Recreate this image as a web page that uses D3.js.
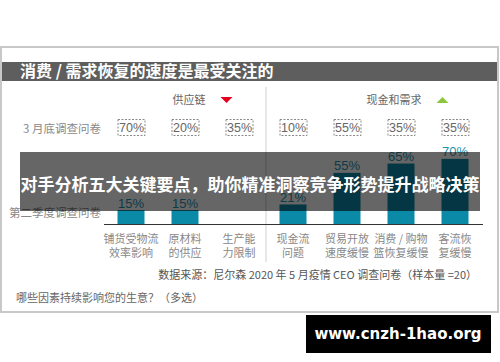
<!DOCTYPE html>
<html>
<head>
<meta charset="utf-8">
<script src="https://cdn.jsdelivr.net/npm/d3@7"></script>
<style>
  body { margin: 0; background: #fff; }
  svg { display: block; font-family: "Noto Sans CJK SC", "Noto Sans", sans-serif; }
</style>
</head>
<body>
<svg class="chart"></svg>
<script>
var width = 500,
    height = 362;

// data
var categories = [
  ["铺货受物流", "效率影响"],
  ["原材料", "的供应"],
  ["生产能", "力限制"],
  ["现金流", "问题"],
  ["贸易开放", "速度缓慢"],
  ["消费 / 购物", "篮恢复缓慢"],
  ["客流恢", "复缓慢"]
];
var marchValues = [70, 20, 35, 10, 55, 35, 35];
var q2Values = [15, 15, null, 21, 55, 65, 70];
var groups = [
  { name: "供应链", dir: "down", from: 0, to: 2 },
  { name: "现金和需求", dir: "up", from: 3, to: 6 }
];
var rowLabels = ["3 月底调查问卷", "第二季度调查问卷"];

var teal = "#0b8aa7";

var svg = d3.select(".chart")
    .attr("width", width)
    .attr("height", height);

// card
svg.append("rect")
    .attr("x", 1).attr("y", 47)
    .attr("width", 497).attr("height", 265)
    .attr("fill", "#fff")
    .attr("stroke", "#c8c8c8")
    .attr("stroke-width", 2);

svg.append("rect")
    .attr("x", 2).attr("y", 62)
    .attr("width", 495).attr("height", 19)
    .attr("fill", "#5e5e5e");

svg.append("text")
    .attr("x", 20).attr("y", 77)
    .attr("fill", "#fff")
    .attr("font-size", 16)
    .attr("font-weight", "bold")
    .text("消费 / 需求恢复的速度是最受关注的");

var x = d3.scaleBand()
    .domain(d3.range(categories.length))
    .range([104, 482])
    .paddingInner(0.5)
    .paddingOuter(0.25);

var y = d3.scaleLinear()
    .domain([0, 100])
    .range([224, 131]);

// divider between the two groups
var divX = (x(2) + x.bandwidth() + x(3)) / 2;
svg.append("line")
    .attr("x1", divX).attr("x2", divX)
    .attr("y1", 87).attr("y2", 262)
    .attr("stroke", "#cfcfcf");

// group headers: triangle near the right end of the group, name before it
groups.forEach(function(g) {
    var right = x(g.to) + x.bandwidth();
    var tx = right - 26, ty = 100;
    svg.append("text")
        .attr("x", tx - 21).attr("y", 104)
        .attr("text-anchor", "end")
        .attr("font-size", 11)
        .attr("fill", "#666")
        .text(g.name);
    var pts = g.dir == "down"
        ? [[tx - 6, ty - 3], [tx + 6, ty - 3], [tx, ty + 3]]
        : [[tx - 6, ty + 3], [tx + 6, ty + 3], [tx, ty - 3]];
    svg.append("path")
        .attr("d", d3.line()(pts) + "Z")
        .attr("fill", g.dir == "down" ? "#e5001e" : "#8cc63e");
});

// row labels
svg.selectAll(".row-label")
    .data(rowLabels)
  .enter().append("text")
    .attr("class", "row-label")
    .attr("x", 101)
    .attr("y", function(d, i) { return i == 0 ? 133 : 217; })
    .attr("text-anchor", "end")
    .attr("font-size", 11.5)
    .attr("fill", "#888")
    .text(function(d) { return d; });

// march survey boxes
var box = svg.selectAll(".box")
    .data(marchValues)
  .enter().append("g")
    .attr("class", "box")
    .attr("transform", function(d, i) { return "translate(" + x(i) + ",119)"; });

box.append("rect")
    .attr("x", 0.5).attr("y", 0.5)
    .attr("width", x.bandwidth()).attr("height", 16)
    .attr("fill", "none")
    .attr("stroke", "#888")
    .attr("stroke-dasharray", "2,1.5");

box.append("text")
    .attr("x", x.bandwidth() / 2 + 0.5).attr("y", 13)
    .attr("text-anchor", "middle")
    .attr("font-size", 12.5)
    .attr("font-family", "Liberation Sans, Arial, sans-serif")
    .attr("fill", "#666")
    .text(function(d) { return d + "%"; });

// q2 bars
var bars = q2Values.map(function(v, i) { return { v: v, i: i }; })
    .filter(function(d) { return d.v != null; });

svg.selectAll(".bar")
    .data(bars)
  .enter().append("rect")
    .attr("class", "bar")
    .attr("x", function(d) { return x(d.i); })
    .attr("y", function(d) { return y(d.v); })
    .attr("width", x.bandwidth())
    .attr("height", function(d) { return y(0) - y(d.v); })
    .attr("fill", teal);

svg.selectAll(".bar-label")
    .data(bars)
  .enter().append("text")
    .attr("class", "bar-label")
    .attr("x", function(d) { return x(d.i) + x.bandwidth() / 2; })
    .attr("y", function(d) { return y(d.v) - 2.5; })
    .attr("text-anchor", "middle")
    .attr("font-size", 13)
    .attr("font-family", "Liberation Sans, Arial, sans-serif")
    .attr("fill", "#1d93ad")
    .text(function(d) { return d.v + "%"; });

// baseline
svg.append("line")
    .attr("x1", 104).attr("x2", 483)
    .attr("y1", y(0) + 0.5).attr("y2", y(0) + 0.5)
    .attr("stroke", "#333");

// category labels
svg.selectAll(".cat")
    .data(categories)
  .enter().append("text")
    .attr("class", "cat")
    .attr("text-anchor", "middle")
    .attr("font-size", 11)
    .attr("fill", "#888")
    .attr("transform", function(d, i) { return "translate(" + (x(i) + x.bandwidth() / 2) + ",243)"; })
    .selectAll("tspan")
    .data(function(d) { return d; })
  .enter().append("tspan")
    .attr("x", 0)
    .attr("dy", function(d, j) { return j == 0 ? 0 : 13.5; })
    .text(function(d) { return d; });

svg.append("text")
    .attr("x", 477).attr("y", 279)
    .attr("text-anchor", "end")
    .attr("font-size", 11)
    .attr("fill", "#555")
    .text("数据来源：尼尔森 2020 年 5 月疫情 CEO 调查问卷（样本量 =20）");

svg.append("text")
    .attr("x", 16).attr("y", 302)
    .attr("font-size", 11)
    .attr("fill", "#666")
    .text("哪些因素持续影响您的生意？（多选）");

// overlay banner
svg.append("rect")
    .attr("x", 20).attr("y", 152)
    .attr("width", 460).attr("height", 59)
    .attr("fill", "rgba(0,0,0,0.6)");

svg.append("text")
    .attr("x", 250).attr("y", 191)
    .attr("text-anchor", "middle")
    .attr("font-size", 17)
    .attr("font-weight", "bold")
    .attr("fill", "#fff")
    .text("对手分析五大关键要点，助你精准洞察竞争形势提升战略决策");

// watermark
svg.append("rect")
    .attr("x", 306).attr("y", 315)
    .attr("width", 185).attr("height", 38)
    .attr("fill", "#000");

svg.append("text")
    .attr("x", 398).attr("y", 339)
    .attr("text-anchor", "middle")
    .attr("font-size", 15)
    .attr("font-weight", "bold")
    .attr("font-family", "DejaVu Sans, sans-serif")
    .attr("fill", "#fff")
    .text("www.cnzh-1hao.org");
</script>
</body>
</html>
